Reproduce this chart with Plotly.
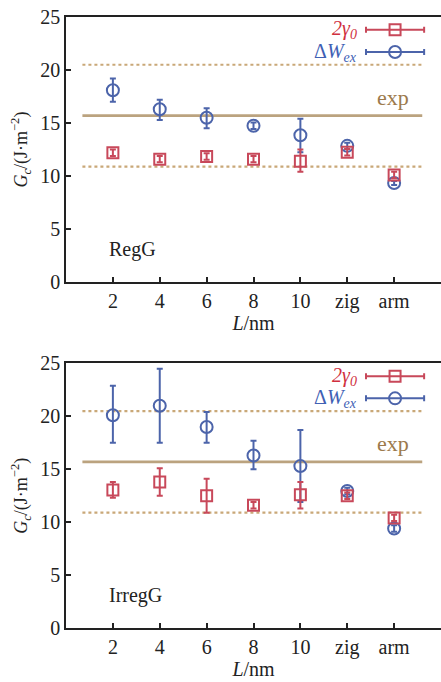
import numpy as np
import plotly.graph_objects as go

# Categories along the length axis
categories = ["2", "4", "6", "8", "10", "zig", "arm"]

# Reference levels (J/m^2)
exp_mean = 15.7
exp_upper = 20.5
exp_lower = 10.9

# RegG panel
reg_dW = [18.1, 16.3, 15.5, 14.75, 13.85, 12.85, 9.35]
reg_dW_plus = [1.1, 0.9, 0.9, 0.3, 1.55, 0.3, 0.2]
reg_dW_minus = [1.1, 1.0, 1.0, 0.3, 1.6, 0.3, 0.2]
reg_g0 = [12.2, 11.6, 11.85, 11.6, 11.4, 12.25, 10.1]
reg_g0_plus = [0.3, 0.3, 0.3, 0.3, 1.1, 0.3, 0.3]
reg_g0_minus = [0.3, 0.3, 0.3, 0.3, 1.0, 0.3, 0.3]

# IrregG panel
irr_dW = [20.1, 21.0, 19.0, 16.3, 15.3, 12.95, 9.4]
irr_dW_plus = [2.8, 3.5, 1.4, 1.4, 3.4, 0.3, 0.3]
irr_dW_minus = [2.6, 3.5, 1.5, 1.3, 3.4, 0.3, 0.3]
irr_g0 = [13.05, 13.8, 12.5, 11.6, 12.6, 12.5, 10.4]
irr_g0_plus = [0.75, 1.3, 1.6, 0.3, 1.2, 0.3, 0.3]
irr_g0_minus = [0.75, 1.3, 1.6, 0.3, 1.3, 0.3, 0.3]

panels = [
    ("RegG", reg_dW, reg_dW_plus, reg_dW_minus, reg_g0, reg_g0_plus, reg_g0_minus),
    ("IrregG", irr_dW, irr_dW_plus, irr_dW_minus, irr_g0, irr_g0_plus, irr_g0_minus),
]

RED = "#c8485a"
BLUE = "#4c64aa"
TAN_LINE = "#bba37f"
TAN_DOT = "#c9a878"
TAN_TEXT = "#9c7a4c"
FONT = "Liberation Serif"

xpos = np.arange(1, len(categories) + 1)
line_x = [0.35, 7.6]
legend_x = 7.02
legend_half = 0.62
legend_y = [23.8, 21.7]

fig = go.Figure()

# Axis pairs: panel 0 -> x/y (top), panel 1 -> x2/y2 (bottom)
axis_ids = [("x", "y"), ("x2", "y2")]
domains = [[0.566, 1.0], [0.0, 0.433]]

for (name, dW, dWp, dWm, g0, g0p, g0m), (xa, ya) in zip(panels, axis_ids):
    # reference lines
    for level, color, dash, width in [
        (exp_upper, TAN_DOT, "dot", 2.2),
        (exp_lower, TAN_DOT, "dot", 2.2),
        (exp_mean, TAN_LINE, "solid", 2.6),
    ]:
        fig.add_trace(go.Scatter(
            x=line_x, y=[level, level], mode="lines",
            line=dict(color=color, dash=dash, width=width),
            xaxis=xa, yaxis=ya, showlegend=False, hoverinfo="skip"))

    # Delta W_ex
    fig.add_trace(go.Scatter(
        x=xpos, y=dW, mode="markers",
        marker=dict(symbol="circle-open", size=12, color=BLUE, line=dict(width=2, color=BLUE)),
        error_y=dict(type="data", array=dWp, arrayminus=dWm, color=BLUE, thickness=2, width=3),
        xaxis=xa, yaxis=ya, showlegend=False))
    # 2 gamma_0
    fig.add_trace(go.Scatter(
        x=xpos, y=g0, mode="markers",
        marker=dict(symbol="square-open", size=11, color=RED, line=dict(width=2, color=RED)),
        error_y=dict(type="data", array=g0p, arrayminus=g0m, color=RED, thickness=2, width=3),
        xaxis=xa, yaxis=ya, showlegend=False))

    # legend glyphs
    for yv, sym, col, sz in [(legend_y[0], "square-open", RED, 11),
                             (legend_y[1], "circle-open", BLUE, 12)]:
        fig.add_trace(go.Scatter(
            x=[legend_x], y=[yv], mode="markers",
            marker=dict(symbol=sym, size=sz, color=col, line=dict(width=2, color=col)),
            error_x=dict(type="constant", value=legend_half, color=col, thickness=2, width=3),
            xaxis=xa, yaxis=ya, showlegend=False, hoverinfo="skip"))

    fig.add_annotation(x=6.25, y=legend_y[0], xref=xa, yref=ya, xanchor="right", yanchor="middle",
                       text="<i>2γ<sub>0</sub></i>", showarrow=False,
                       font=dict(family=FONT, size=20, color="#d0303e"))
    fig.add_annotation(x=6.25, y=legend_y[1], xref=xa, yref=ya, xanchor="right", yanchor="middle",
                       text="Δ<i>W<sub>ex</sub></i>", showarrow=False,
                       font=dict(family=FONT, size=20, color="#4060b4"))
    fig.add_annotation(x=6.97, y=17.4, xref=xa, yref=ya, xanchor="center", yanchor="middle",
                       text="exp", showarrow=False,
                       font=dict(family=FONT, size=22, color=TAN_TEXT))
    fig.add_annotation(x=0.87, y=3.1, xref=xa, yref=ya, xanchor="left", yanchor="middle",
                       text=name, showarrow=False,
                       font=dict(family=FONT, size=20, color="#222222"))

axis_common = dict(showline=True, linecolor="#222222", linewidth=1.5,
                   ticks="inside", ticklen=5, tickwidth=1.5, tickcolor="#222222",
                   showgrid=False, zeroline=False,
                   tickfont=dict(family=FONT, size=20, color="#222222"))

for i, (dom, (xa, ya)) in enumerate(zip(domains, axis_ids)):
    xkey = "xaxis" if i == 0 else "xaxis2"
    ykey = "yaxis" if i == 0 else "yaxis2"
    fig.update_layout({
        xkey: dict(axis_common, range=[0, 8], domain=[0, 1], anchor=ya, mirror=True,
                   tickvals=list(xpos), ticktext=categories,
                   title=dict(text="<i>L</i>/nm", font=dict(family=FONT, size=20, color="#222222"),
                              standoff=4)),
        ykey: dict(axis_common, range=[0, 25], domain=dom, anchor=xa,
                   tickvals=[0, 5, 10, 15, 20, 25],
                   title=dict(text="<i>G</i><sub><i>c</i></sub>/(J·m<sup>−2</sup>)",
                              font=dict(family=FONT, size=18, color="#222222"),
                              standoff=8)),
    })

fig.update_layout(
    width=441, height=682,
    margin=dict(l=66, r=0, t=17, b=54),
    paper_bgcolor="white", plot_bgcolor="white",
    showlegend=False,
)

fig.write_html("out.html")
